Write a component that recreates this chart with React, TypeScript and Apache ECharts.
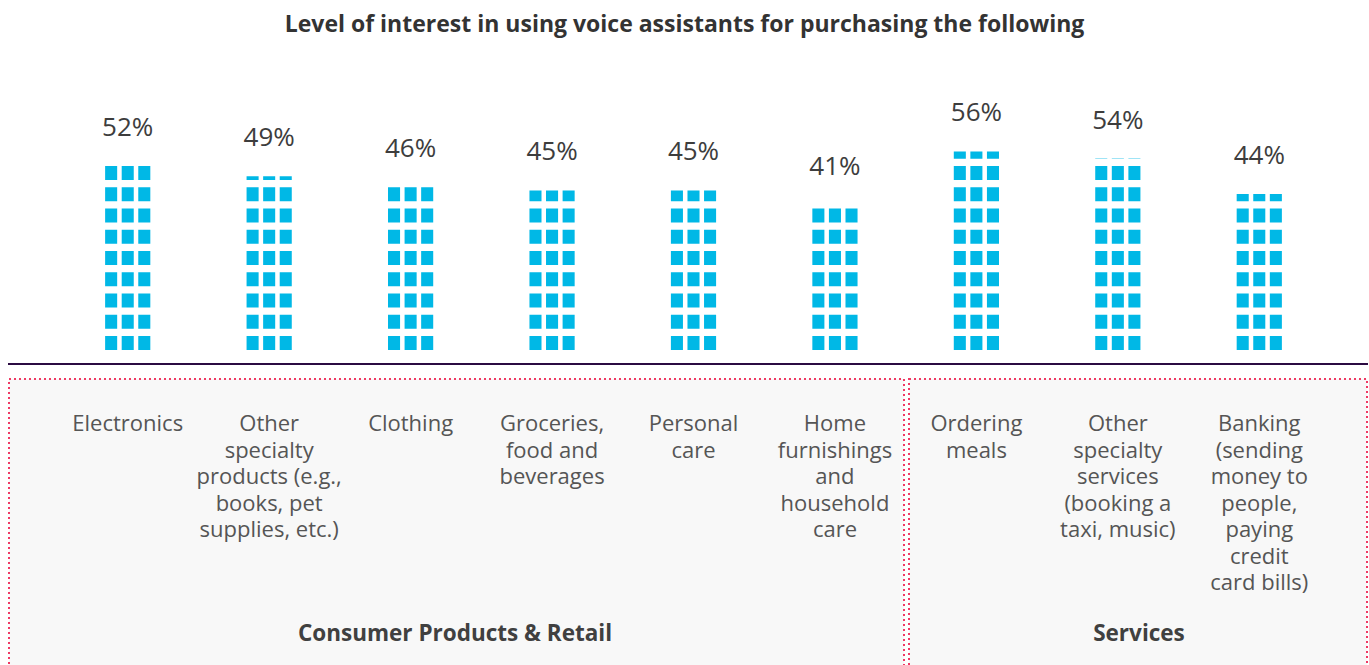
import React, { useEffect, useRef } from "react";
import * as echarts from "echarts";

const categories = [
  "Electronics",
  "Other\nspecialty\nproducts (e.g.,\nbooks, pet\nsupplies, etc.)",
  "Clothing",
  "Groceries,\nfood and\nbeverages",
  "Personal\ncare",
  "Home\nfurnishings\nand\nhousehold\ncare",
  "Ordering\nmeals",
  "Other\nspecialty\nservices\n(booking a\ntaxi, music)",
  "Banking\n(sending\nmoney to\npeople,\npaying\ncredit\ncard bills)",
];
const values = [52, 49, 46, 45, 45, 41, 56, 54, 44];
const groups = ["Consumer Products & Retail", "Services"];
const title = "Level of interest in using voice assistants for purchasing the following";

const FONT = "'Open Sans', 'Noto Sans', sans-serif";
const BLOCK = "path://M0,0h12v14h-12z M16.5,0h12v14h-12z M33,0h12v14h-12z";

export default function App() {
  const ref = useRef<HTMLDivElement>(null);
  useEffect(() => {
    if (!ref.current) return;
    const chart = echarts.init(ref.current, null, { renderer: "svg" });
    const dotted = {
      fill: "#f8f8f8",
      stroke: "#ef3964",
      lineWidth: 2,
      lineDash: [2, 3],
    };
    chart.setOption({
      animation: false,
      backgroundColor: "#ffffff",
      title: {
        text: title,
        left: "center",
        top: 6,
        textStyle: { fontFamily: FONT, fontSize: 23, fontWeight: "bold", color: "#333333" },
      },
      grid: { left: 57, right: 39, top: 137.3, bottom: 315, containLabel: false },
      xAxis: {
        type: "category",
        data: categories,
        z: 10,
        axisLine: { show: false },
        axisTick: { show: false },
        axisLabel: {
          interval: 0,
          margin: 59,
          fontFamily: FONT,
          fontSize: 22,
          lineHeight: 26.5,
          color: "#555555",
          align: "center",
          verticalAlign: "top",
        },
      },
      yAxis: { type: "value", min: 0, max: 60, show: false, splitLine: { show: false } },
      graphic: [
        { type: "rect", z: -10, shape: { x: 9, y: 379, width: 895, height: 320 }, style: dotted },
        { type: "rect", z: -10, shape: { x: 909, y: 379, width: 458, height: 320 }, style: dotted },
        {
          type: "line",
          shape: { x1: 8, y1: 364, x2: 1368, y2: 364 },
          style: { stroke: "#2b0b42", lineWidth: 2 },
        },
        {
          type: "text",
          x: 455,
          y: 632,
          style: {
            text: groups[0],
            fontFamily: FONT,
            fontSize: 22.5,
            fontWeight: "bold",
            fill: "#404040",
            textAlign: "center",
            textVerticalAlign: "middle",
          },
        },
        {
          type: "text",
          x: 1139,
          y: 632,
          style: {
            text: groups[1],
            fontFamily: FONT,
            fontSize: 22.5,
            fontWeight: "bold",
            fill: "#404040",
            textAlign: "center",
            textVerticalAlign: "middle",
          },
        },
      ],
      series: [
        {
          type: "bar",
          data: values,
          barWidth: 45,
          itemStyle: { color: "transparent" },
          label: {
            show: true,
            position: "top",
            distance: 25,
            formatter: "{c}%",
            fontFamily: FONT,
            fontSize: 26,
            lineHeight: 30,
            color: "#3d3d3d",
          },
          silent: true,
        },
        {
          type: "pictorialBar",
          data: values,
          symbol: BLOCK,
          symbolSize: [45, 14],
          symbolRepeat: 10,
          symbolClip: true,
          symbolBoundingData: 57.9,
          symbolPosition: "start",
          itemStyle: { color: "#00b8e6" },
          z: 5,
        },
      ],
    });
    return () => chart.dispose();
  }, []);
  return (
    <div
      ref={ref}
      style={{ position: "absolute", left: 0, top: 0, width: 1369, height: 665 }}
    />
  );
}
